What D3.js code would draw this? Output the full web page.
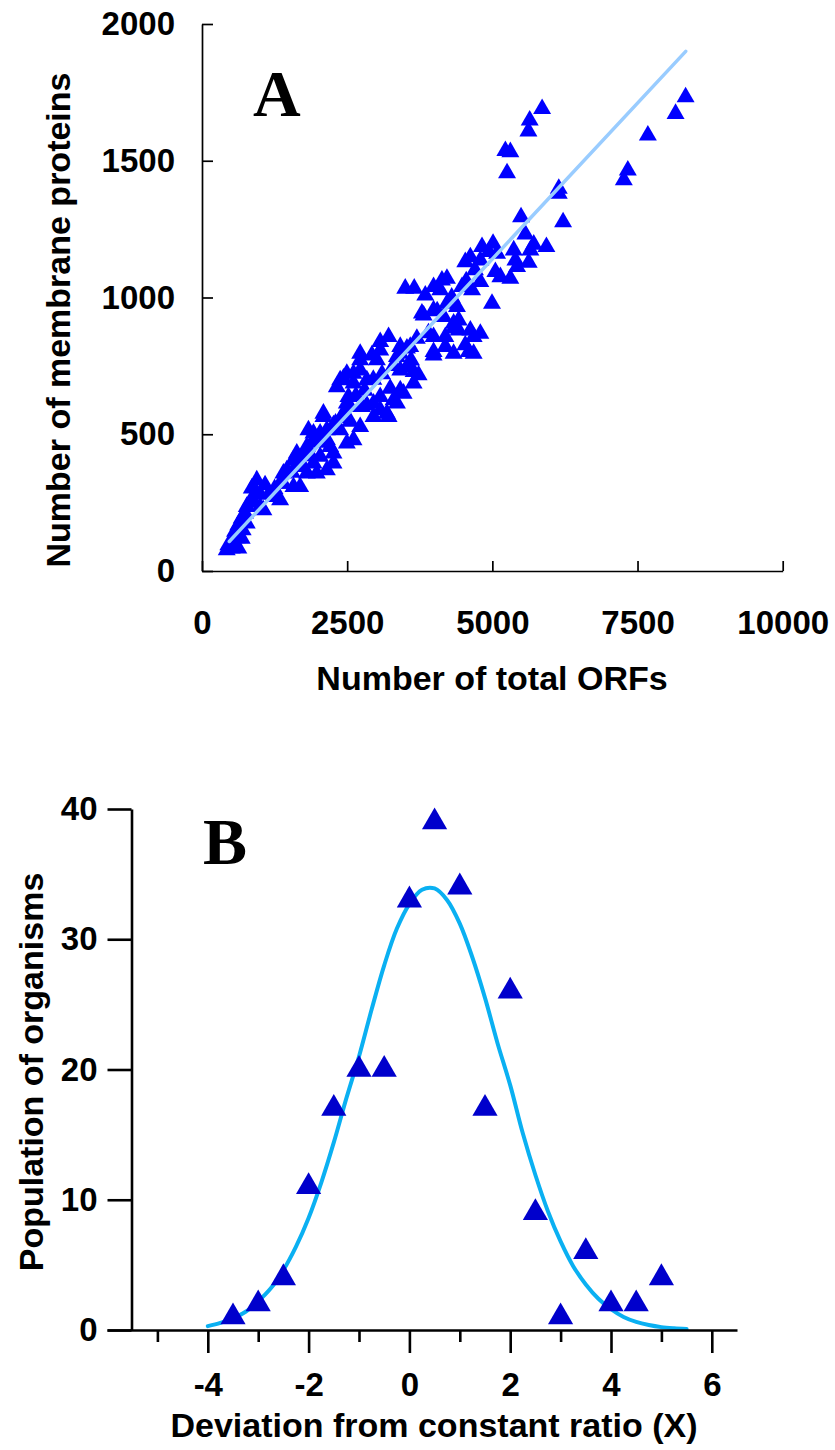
<!DOCTYPE html>
<html>
<head>
<meta charset="utf-8">
<script src="https://cdn.jsdelivr.net/npm/d3@7"></script>
<style>
  html, body { margin: 0; padding: 0; background: #fff; }
  svg text { font-family: "Liberation Sans", Arial, sans-serif; font-weight: bold; fill: #000; }
</style>
</head>
<body>
<svg id="chart" width="835" height="1450"></svg>
<script>
// ---------- Panel A data: total ORFs vs membrane proteins ----------
const orfs = [5857,5643,5621,5224,5310,5253,6144,6144,6218,5494,5569,5713,5931,5368,5397,5626,5012,4822,4621,4534,4937,4793,5138,5310,4793,4994,3500,3655,3845,4132,4218,4103,4477,4650,3816,4218,4161,4333,4420,4190,4678,4793,3988,4190,4592,3529,8328,8155,7678,7333,7264,
  3988,3988,4391,4333,3988,3213,3069,2724,2926,3012,3357,3586,3529,3414,3730,3644,2436,2609,2724,2609,2839,3241,3414,3298,3069,2954,2839,3184,2753,2522,2494,2436,2552,2609,2379,2264,2091,2150,2034,1833,1920,2207,2264,2034,1920,1632,1575,1747,1977,1402,1345,1575,1230,943,1086,857,943,828,1057,1000,771,741,684,771,626,569,684,540,454,512,626,426,
  4621,4534,4678,5081,5426,5655,5052,3069,3414,1345,1690,1805,2150,2264,2494,2724,2954,3069,3357,3471,3644,1460,1805,1920,2091,2322,2379,2494,2724,3787,3988,4420,4333,3414,3213,
  1150,1250,1400,1550,1650,1750,1850,2000,2150,2300,2400,2550,2650,2800,2950,3100,3300,3600,3700,3900,4050,4300,4550,4700,900,700,600,1000];
const membrane = [1690,1648,1608,1536,1532,1455,1398,1380,1276,1294,1231,1194,1185,1173,1136,1128,1197,1185,1148,1130,1167,1136,1075,1069,1057,978,1033,1033,1008,1063,1069,1027,1039,1027,935,978,929,905,917,856,856,868,801,820,801,814,1733,1672,1593,1465,1429,
  1039,954,966,887,789,856,807,795,789,771,783,820,746,734,716,728,704,722,734,686,698,667,661,625,637,613,606,576,600,637,613,576,546,479,515,533,564,515,503,515,479,454,430,418,394,430,406,381,357,357,320,308,271,332,314,302,284,253,223,235,235,211,193,174,168,144,119,113,95,83,83,77,
  880,826,795,1161,1112,1173,1094,838,820,259,308,357,369,394,467,527,564,588,613,649,686,369,454,503,576,673,698,722,771,942,856,880,795,795,564,
  280,300,320,360,390,420,430,470,480,540,560,600,640,660,700,720,750,770,850,870,950,1000,1060,1100,250,150,120,280];
// fitted straight line (end points)
const fitOrfs = [470, 8330];
const fitMembrane = [108, 1900];
const tickA_x = [0, 2500, 5000, 7500, 10000];
const tickA_y = [0, 500, 1000, 1500, 2000];

// ---------- Panel B data: deviation histogram ----------
const deviation = [-3.5,-3,-2.5,-2,-1.5,-1,-0.5,0,0.5,1,1.5,2,2.5,3,3.5,4,4.5,5];
const population = [1,2,4,11,17,20,20,33,39,34,17,26,9,1,6,2,2,4];
// fitted curve
const curveX = [-4,-3.75,-3.5,-3.25,-3,-2.75,-2.5,-2.25,-2,-1.75,-1.5,-1.25,-1,-0.75,-0.5,-0.25,0,0.25,0.5,0.75,1,1.25,1.5,1.75,2,2.25,2.5,2.75,3,3.25,3.5,3.75,4,4.25,4.5,4.75,5,5.25,5.5];
const curveY = [0.3,0.55,0.9,1.4,2.2,3.2,4.6,6.4,8.6,11.3,14.4,17.8,21.0,24.6,28.0,30.8,32.7,33.8,33.9,33.0,31.2,28.6,25.5,22.0,18.8,15.1,11.9,9.1,6.8,4.9,3.5,2.4,1.6,1.0,0.62,0.38,0.22,0.13,0.07];
const tickB_x = [-5,-4,-3,-2,-1,0,1,2,3,4,5,6];
const tickB_y = [0, 10, 20, 30, 40];

const svg = d3.select("#chart");

// ================= Panel A =================
const xA = d3.scaleLinear().domain([0, 10000]).range([202, 782.7]);
const yA = d3.scaleLinear().domain([0, 2000]).range([571, 24]);
const gA = svg.append("g");

const triA = d3.symbol().type(d3.symbolTriangle).size(140);
gA.append("g").selectAll("path").data(orfs.map((o, i) => [o, membrane[i]])).join("path")
  .attr("d", triA)
  .attr("transform", d => `translate(${xA(d[0])},${yA(d[1])})`)
  .attr("fill", "#0000ff");

gA.append("line")
  .attr("x1", xA(fitOrfs[0])).attr("y1", yA(fitMembrane[0]))
  .attr("x2", xA(fitOrfs[1])).attr("y2", yA(fitMembrane[1]))
  .attr("stroke", "#99ccff").attr("stroke-width", 3.5).attr("stroke-linecap", "round");

const axAy = gA.append("g").attr("transform", `translate(${xA(0)},0)`)
  .call(d3.axisLeft(yA).tickValues(tickA_y).tickFormat(d => String(d)).tickSizeInner(-11).tickSizeOuter(0).tickPadding(27));
const axAx = gA.append("g").attr("transform", `translate(0,${yA(0)})`)
  .call(d3.axisBottom(xA).tickValues(tickA_x).tickFormat(d => String(d)).tickSizeInner(-10).tickSizeOuter(0).tickPadding(40));
[axAy, axAx].forEach(a => {
  a.selectAll(".domain, .tick line").attr("stroke", "#000").attr("stroke-width", 1.7);
  a.selectAll("text").style("font-size", "33px").style("font-family", '"Liberation Sans", Arial, sans-serif').style("font-weight", "bold");
});

gA.append("text").attr("x", 253).attr("y", 116)
  .style("font-family", '"Liberation Serif", "Times New Roman", serif').style("font-size", "66px").text("A");
gA.append("text").attr("transform", "translate(70,320) rotate(-90)").attr("text-anchor", "middle")
  .style("font-size", "34px").text("Number of membrane proteins");
gA.append("text").attr("x", 492).attr("y", 690).attr("text-anchor", "middle")
  .style("font-size", "34px").text("Number of total ORFs");

// ================= Panel B =================
const xB = d3.scaleLinear().domain([-6, 6.5]).range([107, 737]);
const yB = d3.scaleLinear().domain([0, 40]).range([1330, 809]);
const gB = svg.append("g");

gB.append("path")
  .datum(curveX.map((x, i) => [x, curveY[i]]))
  .attr("d", d3.line().x(d => xB(d[0])).y(d => yB(d[1])).curve(d3.curveCatmullRom))
  .attr("fill", "none").attr("stroke", "#0ab0f2").attr("stroke-width", 4).attr("stroke-linecap", "round");

const triB = d3.symbol().type(d3.symbolTriangle).size(275);
gB.append("g").selectAll("path").data(deviation.map((d, i) => [d, population[i]])).join("path")
  .attr("d", triB)
  .attr("transform", d => `translate(${xB(d[0])},${yB(d[1])})`)
  .attr("fill", "#0000cc");

const axBy = gB.append("g").attr("transform", `translate(${131.5},0)`)
  .call(d3.axisLeft(yB).tickValues(tickB_y).tickFormat(d => String(d)).tickSizeInner(24).tickSizeOuter(0).tickPadding(10));
const axBx = gB.append("g").attr("transform", `translate(0,${yB(0)})`)
  .call(d3.axisBottom(xB).tickValues(tickB_x).tickFormat(d => (d % 2 === 0 ? String(d) : "")).tickSizeInner(23).tickSizeOuter(0).tickPadding(20));
axBx.selectAll(".tick line").attr("y2", d => (d % 2 === 0 ? 23 : 12));
[axBy, axBx].forEach(a => {
  a.selectAll(".domain, .tick line").attr("stroke", "#000").attr("stroke-width", 2.6);
  a.selectAll("text").style("font-size", "33px").style("font-family", '"Liberation Sans", Arial, sans-serif').style("font-weight", "bold");
});

gB.append("text").attr("x", 203).attr("y", 864)
  .style("font-family", '"Liberation Serif", "Times New Roman", serif').style("font-size", "66px").text("B");
gB.append("text").attr("transform", "translate(43,1072) rotate(-90)").attr("text-anchor", "middle")
  .style("font-size", "34px").text("Population of organisms");
gB.append("text").attr("x", 434).attr("y", 1437).attr("text-anchor", "middle")
  .style("font-size", "34px").text("Deviation from constant ratio (X)");
</script>
</body>
</html>
